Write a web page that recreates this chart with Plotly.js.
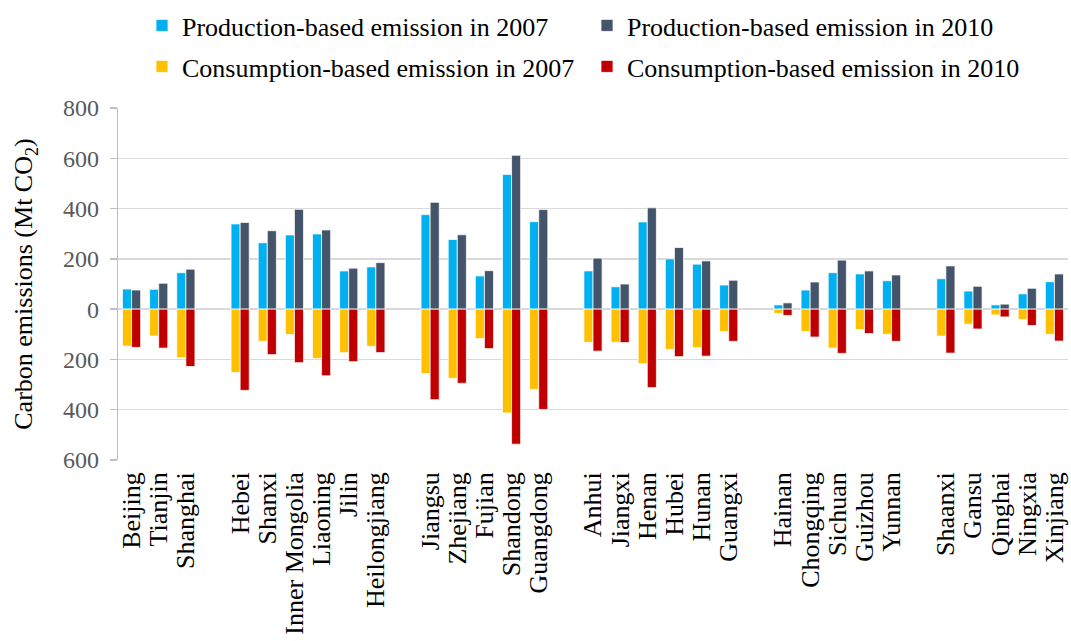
<!DOCTYPE html>
<html>
<head>
<meta charset="utf-8">
<script src="https://cdn.plot.ly/plotly-3.0.1.min.js"></script>
<style>
  html, body { margin: 0; padding: 0; background: #fff; }
  #chart { width: 1071px; height: 641px; }
</style>
</head>
<body>
<div id="chart"></div>
<script>
// Provinces grouped by region; a blank slot separates each region on the axis.
const regions = [
  ['Beijing', 'Tianjin', 'Shanghai'],
  ['Hebei', 'Shanxi', 'Inner Mongolia', 'Liaoning', 'Jilin', 'Heilongjiang'],
  ['Jiangsu', 'Zhejiang', 'Fujian', 'Shandong', 'Guangdong'],
  ['Anhui', 'Jiangxi', 'Henan', 'Hubei', 'Hunan', 'Guangxi'],
  ['Hainan', 'Chongqing', 'Sichuan', 'Guizhou', 'Yunnan'],
  ['Shaanxi', 'Gansu', 'Qinghai', 'Ningxia', 'Xinjiang']
];

// Carbon emissions, Mt CO2, in province order (consumption drawn downward).
const production2007 = [80, 79, 145, 339, 264, 295, 299, 152, 168, 376, 277, 132, 536, 348,
  152, 89, 347, 200, 179, 96, 17, 76, 145, 140, 113, 121, 72, 17, 61, 109];
const production2010 = [76, 103, 159, 345, 312, 397, 315, 163, 185, 425, 296, 153, 612, 396,
  203, 100, 403, 245, 192, 115, 25, 108, 195, 152, 136, 172, 91, 20, 83, 140];
const consumption2007 = [-147, -107, -193, -252, -128, -101, -196, -173, -148, -256, -275, -117, -413, -319,
  -132, -132, -217, -160, -153, -89, -17, -89, -155, -81, -100, -107, -60, -23, -41, -100];
const consumption2010 = [-152, -155, -228, -323, -181, -213, -265, -209, -173, -360, -295, -157, -537, -399,
  -167, -133, -312, -189, -187, -128, -25, -111, -176, -97, -128, -175, -79, -31, -65, -127];

const yTickValues = [-600, -400, -200, 0, 200, 400, 600, 800];

// Build the category list with blank spacer categories between regions,
// and pad each series with nulls at those spacer slots.
const categories = [];
const slotIndex = [];
let k = 0;
regions.forEach((names, r) => {
  if (r > 0) { categories.push(' '.repeat(r)); slotIndex.push(null); }
  names.forEach(n => { categories.push(n); slotIndex.push(k++); });
});
const spread = arr => slotIndex.map(i => (i === null ? null : arr[i]));

const FONT = 'Liberation Serif, Times New Roman, serif';
const outline = { color: '#ffffff', width: 0.75 };

function series(name, values, color, group, legend) {
  return {
    type: 'bar', name, x: categories, y: spread(values),
    marker: { color, line: outline },
    offsetgroup: group, legend, hoverinfo: 'x+y'
  };
}

const data = [
  series('Production-based emission in 2007', production2007, '#00B0F0', 'y2007', 'legend'),
  series('Production-based emission in 2010', production2010, '#44546A', 'y2010', 'legend'),
  series('Consumption-based emission in 2007', consumption2007, '#FFC000', 'y2007', 'legend2'),
  series('Consumption-based emission in 2010', consumption2010, '#C00000', 'y2010', 'legend2')
];

const legendBase = {
  xref: 'container', yref: 'container', x: 142 / 1071, xanchor: 'left', yanchor: 'top',
  orientation: 'h', entrywidth: 400, entrywidthmode: 'pixels',
  font: { family: FONT, size: 26, color: '#000000' }, bgcolor: 'rgba(0,0,0,0)',
  traceorder: 'normal'
};

const layout = {
  width: 1071, height: 641,
  margin: { l: 118, r: 3, t: 108, b: 181, pad: 0 },
  paper_bgcolor: '#ffffff', plot_bgcolor: '#ffffff',
  barmode: 'group', bargap: 0.33, bargroupgap: 0,
  showlegend: true,
  legend: Object.assign({}, legendBase, { y: 1 - 2 / 641 }),
  legend2: Object.assign({}, legendBase, { y: 1 - 43 / 641 }),
  xaxis: {
    type: 'category', categoryorder: 'array', categoryarray: categories,
    tickmode: 'array', tickvals: categories, ticktext: categories,
    tickangle: -90, ticks: '', showgrid: false, showline: false, zeroline: false,
    ticklabelstandoff: 6,
    tickfont: { family: FONT, size: 26, color: '#000000' },
    automargin: false, fixedrange: true
  },
  yaxis: {
    range: [-600, 800], tickvals: yTickValues,
    ticktext: yTickValues.map(v => String(Math.abs(v))),
    showgrid: true, gridcolor: '#d9d9d9', gridwidth: 1.3,
    zeroline: true, zerolinecolor: '#d9d9d9', zerolinewidth: 1.3,
    showline: true, linecolor: '#bfbfbf', linewidth: 1.3,
    ticks: 'outside', ticklen: 7, tickcolor: '#bfbfbf', tickwidth: 1.3,
    ticklabelstandoff: 6,
    tickfont: { family: FONT, size: 24, color: '#595959' },
    title: { text: 'Carbon emissions (Mt CO<sub>2</sub>)', font: { family: FONT, size: 26, color: '#000000' }, standoff: 22 },
    automargin: false, fixedrange: true
  }
};

Plotly.newPlot('chart', data, layout, { displayModeBar: false, staticPlot: true });
</script>
</body>
</html>
